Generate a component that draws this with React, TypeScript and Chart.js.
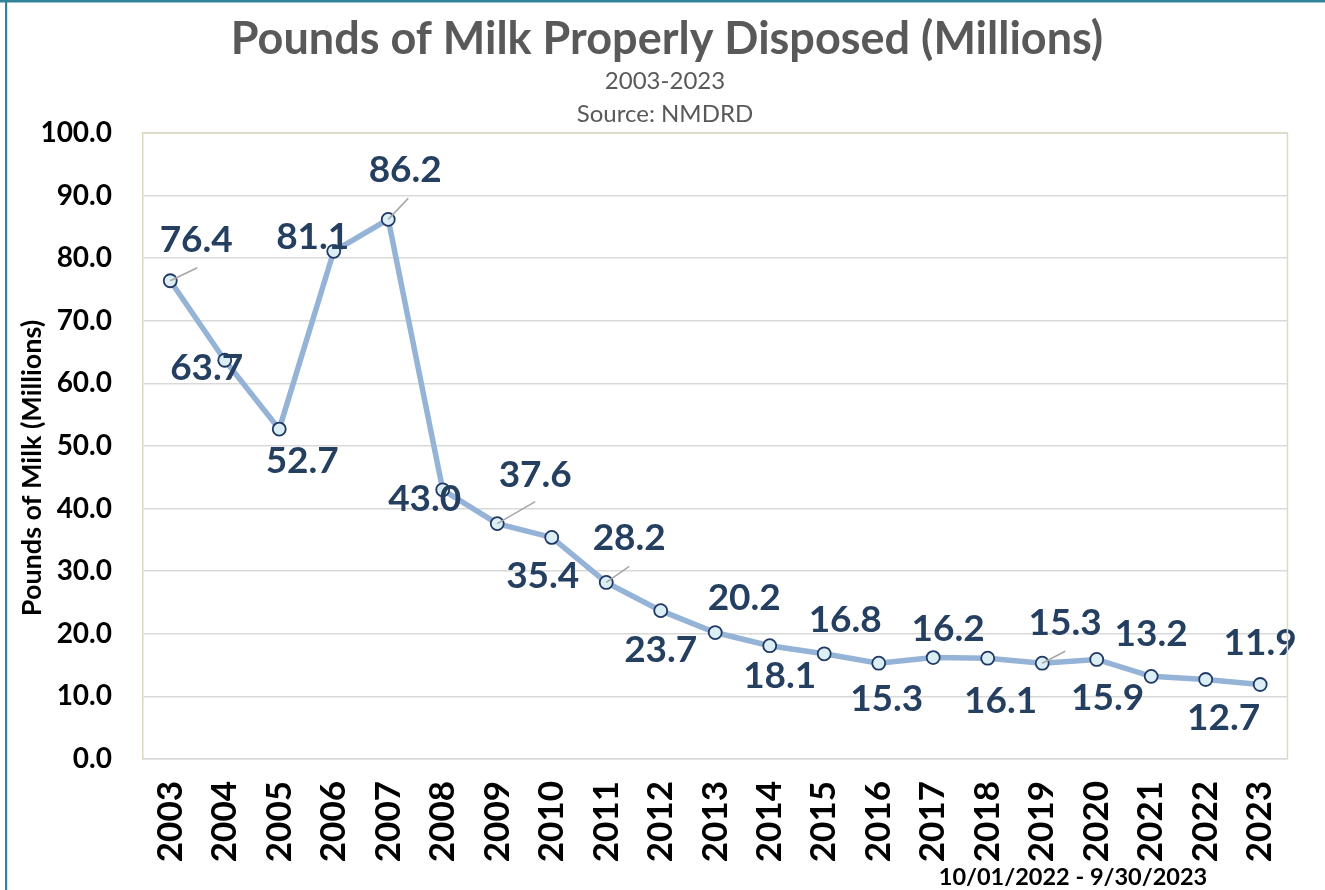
import React, { useEffect, useRef } from "react";
import { Chart, registerables } from "chart.js";

Chart.register(...registerables);

const years = ["2003", "2004", "2005", "2006", "2007", "2008", "2009", "2010", "2011", "2012", "2013", "2014", "2015", "2016", "2017", "2018", "2019", "2020", "2021", "2022", "2023"];
const pounds = [76.4, 63.7, 52.7, 81.1, 86.2, 43.0, 37.6, 35.4, 28.2, 23.7, 20.2, 18.1, 16.8, 15.3, 16.2, 16.1, 15.3, 15.9, 13.2, 12.7, 11.9];
const yMin = 0;
const yMax = 100;
const yStep = 10;

const chartTitle = "Pounds of Milk Properly Disposed (Millions)";
const subtitleLines = ["2003-2023", "Source: NMDRD"];
const yAxisTitle = "Pounds of Milk (Millions)";
const footnote = "10/01/2022 - 9/30/2023";

// data label placement relative to each point (px)
const labelOffsets: [number, number][] = [
  [26, -42], [-18, 7], [23, 31], [-21, -15], [17, -50], [-18, 8], [38, -50], [-9, 38],
  [23, -45], [0, 38], [29, -36], [10, 29], [21, -35], [8, 35], [15, -30], [13, 42],
  [23, -41], [11, 38], [0, -43], [18, 38], [0, -43],
];
// leader line end points relative to the point (px), null = none
const leaderEnds: ([number, number] | null)[] = [
  [27, -13], null, null, null, [20, -21], null, [38, -22], null,
  [23, -16], null, null, null, null, null, null, null,
  [23, -12], null, null, null, null,
];

const FONT = "Lato, 'Open Sans', sans-serif";

const decorPlugin = {
  id: "decor",
  beforeDraw(chart: any) {
    const { ctx, width, height } = chart;
    ctx.save();
    ctx.fillStyle = "#ffffff";
    ctx.fillRect(0, 0, width, height);
    ctx.restore();
  },
  afterDraw(chart: any) {
    const { ctx, chartArea } = chart;
    ctx.save();
    // plot frame (top, right in beige)
    ctx.strokeStyle = "#ddd9c3";
    ctx.lineWidth = 1.5;
    ctx.beginPath();
    ctx.moveTo(chartArea.left, chartArea.top);
    ctx.lineTo(chartArea.right, chartArea.top);
    ctx.lineTo(chartArea.right, chartArea.bottom);
    ctx.stroke();

    // page frame
    ctx.fillStyle = "#31849b";
    ctx.fillRect(0, 0, chart.width, 2.5);
    ctx.fillRect(5, 0, 2.2, chart.height);

    // title
    ctx.fillStyle = "#595959";
    ctx.textAlign = "center";
    ctx.textBaseline = "alphabetic";
    ctx.font = `bold 45px ${FONT}`;
    ctx.fillText(chartTitle, 667, 54);
    ctx.font = `24px ${FONT}`;
    ctx.fillText(subtitleLines[0], 665, 89);
    ctx.fillText(subtitleLines[1], 665, 122);

    // y axis title
    ctx.save();
    ctx.translate(32, 468);
    ctx.rotate(-Math.PI / 2);
    ctx.fillStyle = "#000000";
    ctx.font = `bold 27px ${FONT}`;
    ctx.textBaseline = "middle";
    ctx.fillText(yAxisTitle, 0, 0);
    ctx.restore();

    // footnote
    ctx.fillStyle = "#000000";
    ctx.font = `bold 23.5px ${FONT}`;
    ctx.textAlign = "center";
    ctx.fillText(footnote, 1073, 885);
    ctx.restore();
  },
  afterDatasetsDraw(chart: any) {
    const { ctx } = chart;
    const meta = chart.getDatasetMeta(0);
    ctx.save();
    // leader lines
    ctx.strokeStyle = "#a6a6a6";
    ctx.lineWidth = 1.5;
    meta.data.forEach((pt: any, i: number) => {
      const le = leaderEnds[i];
      if (!le) return;
      ctx.beginPath();
      ctx.moveTo(pt.x, pt.y);
      ctx.lineTo(pt.x + le[0], pt.y + le[1]);
      ctx.stroke();
    });
    // labels
    ctx.fillStyle = "#253f61";
    ctx.font = `bold 37px ${FONT}`;
    ctx.textAlign = "center";
    ctx.textBaseline = "alphabetic";
    meta.data.forEach((pt: any, i: number) => {
      const [dx, dy] = labelOffsets[i];
      const txt = pounds[i].toFixed(1);
      ctx.fillText(txt, pt.x + dx, pt.y + dy + 13);
    });
    ctx.restore();
  },
};

export default function App() {
  const canvasRef = useRef<HTMLCanvasElement | null>(null);

  useEffect(() => {
    document.body.style.margin = "0";
    let chart: Chart | null = null;
    let cancelled = false;
    const build = () => {
      if (cancelled || !canvasRef.current) return;
      chart = new Chart(canvasRef.current, {
        type: "line",
        data: {
          labels: years,
          datasets: [
            {
              data: pounds,
              borderColor: "#95b3d7",
              borderWidth: 5.5,
              pointRadius: 6.5,
              pointBackgroundColor: "#dbeef4",
              pointBorderColor: "#1f3864",
              pointBorderWidth: 1.8,
              tension: 0,
              fill: false,
            },
          ],
        },
        options: {
          responsive: false,
          animation: false,
          layout: { padding: { top: 133, right: 34, left: 0, bottom: 0 } },
          plugins: {
            legend: { display: false },
            tooltip: { enabled: false },
            title: { display: false },
          },
          scales: {
            x: {
              type: "category",
              offset: true,
              grid: { display: false, drawTicks: false },
              border: { display: true, color: "#d9d9d9", width: 1.5 },
              ticks: {
                autoSkip: false,
                minRotation: 90,
                maxRotation: 90,
                padding: 22,
                color: "#000000",
                font: { family: FONT, size: 35, weight: "bold" },
              },
              afterFit: (scale: any) => {
                scale.height = 131;
              },
            },
            y: {
              min: yMin,
              max: yMax,
              ticks: {
                stepSize: yStep,
                padding: 31,
                color: "#000000",
                font: { family: FONT, size: 28, weight: "bold" },
                callback: (v: any) => Number(v).toFixed(1),
              },
              grid: { color: "#d9d9d9", lineWidth: 1.5, drawTicks: false },
              border: { display: true, color: "#ddd9c3", width: 1.5 },
              afterFit: (scale: any) => {
                scale.width = 143;
              },
            },
          },
        },
        plugins: [decorPlugin],
      });
    };
    const fontsApi: any = (document as any).fonts;
    if (fontsApi && fontsApi.load) {
      Promise.all([
        fontsApi.load(`bold 20px Lato`),
        fontsApi.load(`20px Lato`),
      ]).then(build, build);
    } else {
      build();
    }
    return () => {
      cancelled = true;
      if (chart) chart.destroy();
    };
  }, []);

  return (
    <div style={{ width: 1325, height: 890 }}>
      <canvas ref={canvasRef} width={1325} height={890} style={{ display: "block" }} />
    </div>
  );
}
